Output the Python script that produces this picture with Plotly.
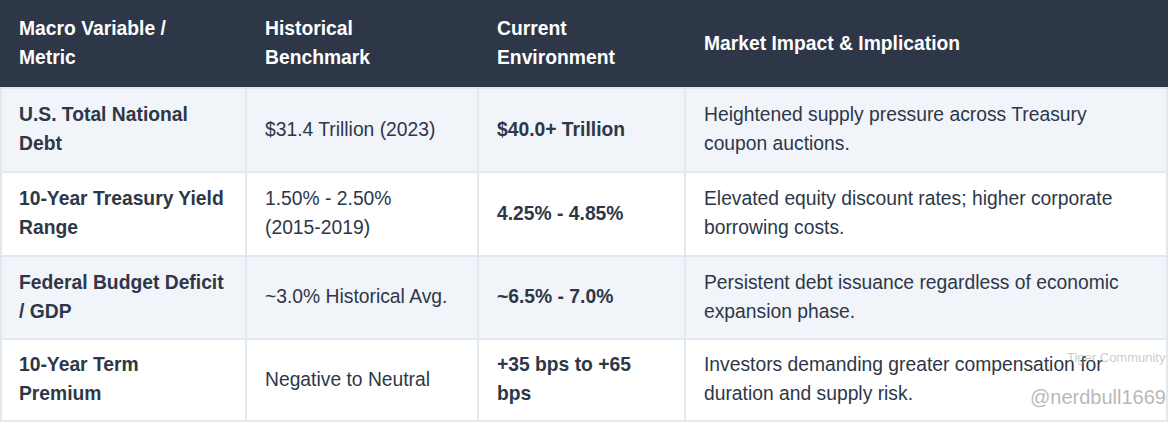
import plotly.graph_objects as go

headers = ["Macro Variable /<br>Metric", "Historical<br>Benchmark", "Current<br>Environment", "Market Impact & Implication"]
col_metric = ["U.S. Total National<br>Debt", "10-Year Treasury Yield<br>Range", "Federal Budget Deficit<br>/ GDP", "10-Year Term<br>Premium"]
col_hist = ["$31.4 Trillion (2023)", "1.50% - 2.50%<br>(2015-2019)", "~3.0% Historical Avg.", "Negative to Neutral"]
col_curr = ["$40.0+ Trillion", "4.25% - 4.85%", "~6.5% - 7.0%", "+35 bps to +65<br>bps"]
col_impact = ["Heightened supply pressure across Treasury<br>coupon auctions.",
              "Elevated equity discount rates; higher corporate<br>borrowing costs.",
              "Persistent debt issuance regardless of economic<br>expansion phase.",
              "Investors demanding greater compensation for<br>duration and supply risk."]

W, H = 1168, 423
col_edges = [0, 246, 478, 685, 1168]
row_edges = [0, 88, 172, 256, 339, 421]
bold_cols = [True, False, True, False]
navy = "#2d3748"
text_c = "#2d3748"
border = "#e2e8f0"
row_fill = ["#f1f4f8", "#ffffff", "#f1f4f8", "#ffffff"]
LH = 29

fig = go.Figure()
shapes, annos = [], []
shapes.append(dict(type="rect", x0=0, x1=W, y0=row_edges[0], y1=row_edges[1], fillcolor=navy, line_width=0, layer="below"))
for i in range(4):
    shapes.append(dict(type="rect", x0=0, x1=W, y0=row_edges[i+1], y1=row_edges[i+2], fillcolor=row_fill[i],
                       line=dict(color=border, width=2), layer="below"))
for c in col_edges[1:-1]:
    shapes.append(dict(type="line", x0=c, x1=c, y0=row_edges[1], y1=row_edges[-1], line=dict(color=border, width=2), layer="below"))
shapes.append(dict(type="line", x0=1, x1=1, y0=row_edges[1], y1=row_edges[-1], line=dict(color=border, width=2)))
shapes.append(dict(type="line", x0=W-1, x1=W-1, y0=row_edges[1], y1=row_edges[-1], line=dict(color=border, width=2)))

font = "Liberation Sans, Arial, sans-serif"

def add_cell(text, x, yc, bold, color):
    lines = text.split("<br>")
    n = len(lines)
    for k, ln in enumerate(lines):
        y = yc + (k - (n - 1) / 2) * LH - 1
        annos.append(dict(x=x, y=y, text=("<b>"+ln+"</b>") if bold else ln, showarrow=False,
                          xanchor="left", yanchor="middle", align="left",
                          font=dict(family=font, size=19.3, color=color)))

for j, h in enumerate(headers):
    add_cell(h, col_edges[j]+17, (row_edges[0]+row_edges[1])/2, True, "white")
cols = [col_metric, col_hist, col_curr, col_impact]
for j, col in enumerate(cols):
    for i, t in enumerate(col):
        add_cell(t, col_edges[j]+17, (row_edges[i+1]+row_edges[i+2])/2, bold_cols[j], text_c)

annos.append(dict(x=1168, y=357, text="Tiger Community", showarrow=False, xanchor="right", yanchor="middle",
                  font=dict(family=font, size=13, color="rgba(150,150,150,0.5)")))
annos.append(dict(x=1168, y=397, text="@nerdbull1669", showarrow=False, xanchor="right", yanchor="middle",
                  font=dict(family=font, size=20, color="rgba(160,160,160,0.75)")))

fig.update_layout(width=W, height=H, margin=dict(l=0, r=0, t=0, b=0), paper_bgcolor="white", plot_bgcolor="white",
                  shapes=shapes, annotations=annos,
                  xaxis=dict(range=[0, W], visible=False, fixedrange=True),
                  yaxis=dict(range=[H, 0], visible=False, fixedrange=True),
                  showlegend=False)
fig.write_html("out.html", config={"displayModeBar": False},
               post_script="document.body.style.margin='0';document.body.style.overflow='hidden';")
